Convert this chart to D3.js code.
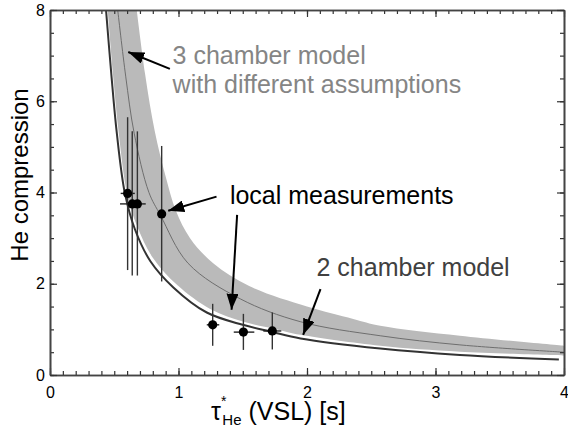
<!DOCTYPE html>
<html lang="en">
<head>
<meta charset="UTF-8">
<script src="https://d3js.org/d3.v7.min.js"></script>
<title>He compression</title>
<style>
  body { margin: 0; background: #fff; }
  text { font-family: "Liberation Sans", Arial, Helvetica, sans-serif; }
</style>
</head>
<body>
<svg id="chart" width="568" height="428"></svg>
<script>
// tick labels
const xTicks = [0, 1, 2, 3, 4];
const yTicks = [0, 2, 4, 6, 8];

// 2 chamber model (dark line) as [tau, compression]
const twoChamber = [[0.436,8.0],[0.477,6.6],[0.52,5.3],[0.583,3.98],[0.66,3.2],[0.78,2.5],[0.96,1.92],
  [1.22,1.37],[1.5,1.1],[1.72,0.95],[1.95,0.8],[2.57,0.58],[3.19,0.44],[3.96,0.34]];

// 3 chamber model: band edges and the middle line
const bandUpper = [[0.675,8.0],[0.74,6.6],[0.815,5.35],[0.90,4.35],[0.98,3.6],[1.09,3.0],[1.27,2.45],
  [1.55,1.95],[2.0,1.5],[2.36,1.23],[2.57,1.08],[3.19,0.86],[4.0,0.64]];
const bandLower = [[0.449,8.0],[0.49,6.6],[0.535,5.3],[0.60,3.98],[0.68,3.25],[0.80,2.57],[0.99,1.97],
  [1.25,1.44],[1.5,1.17],[1.75,1.01],[1.95,0.88],[2.57,0.64],[3.19,0.51],[4.0,0.43]];
const threeChamber = [[0.527,8.0],[0.589,6.55],[0.655,5.3],[0.77,4.0],[0.86,3.5],[1.074,2.45],
  [1.48,1.67],[1.946,1.17],[2.57,0.86],[3.19,0.66],[4.0,0.50]];

// local measurements with error bars
const pointTau  = [0.604, 0.64, 0.68, 0.869, 1.266, 1.505, 1.73];
const pointComp = [3.98, 3.75, 3.75, 3.53, 1.10, 0.94, 0.965];
const compLow   = [2.30, 2.18, 2.18, 2.05, 0.64, 0.55, 0.56];
const compHigh  = [5.65, 5.34, 5.34, 5.02, 1.56, 1.34, 1.37];
const tauLow    = [0.55, 0.545, 0.62, 0.869, 1.22, 1.43, 1.66];
const tauHigh   = [0.66, 0.70, 0.745, 0.869, 1.317, 1.59, 1.80];

// annotations (data units)
const noteText = ["3 chamber model", "with different assumptions", "local measurements", "2 chamber model"];
const noteAt   = [[0.954,6.81],[0.954,6.18],[1.40,3.74],[2.074,2.17]];
const arrowFrom = [[0.933,6.71],[1.296,3.91],[1.456,3.51],[2.105,1.88]];
const arrowTo   = [[0.609,7.08],[0.92,3.60],[1.413,1.43],[1.97,0.88]];

const svg = d3.select("svg#chart");
const margin = {top: 10, right: 4, bottom: 53, left: 50};
const width = +svg.attr("width"), height = +svg.attr("height");

const x = d3.scaleLinear().domain([0, 4]).range([margin.left, width - margin.right]);
const y = d3.scaleLinear().domain([0, 8]).range([height - margin.bottom, margin.top]);

svg.append("defs").append("clipPath").attr("id", "plot")
  .append("rect")
  .attr("x", x(0)).attr("y", y(8))
  .attr("width", x(4) - x(0)).attr("height", y(0) - y(8));

svg.select("defs").append("marker")
  .attr("id", "head")
  .attr("markerUnits", "userSpaceOnUse")
  .attr("viewBox", "0 -6 16 12")
  .attr("refX", 16).attr("refY", 0)
  .attr("markerWidth", 16).attr("markerHeight", 12)
  .attr("orient", "auto")
  .append("path").attr("d", "M0,-6L16,0L0,6Z").attr("fill", "#000");

const lineGen = d3.line()
  .x(d => x(d[0]))
  .y(d => y(d[1]))
  .curve(d3.curveCatmullRom.alpha(0.5));

const curves = svg.append("g").attr("clip-path", "url(#plot)");

// band: upper edge, then lower edge back
const up = lineGen(bandUpper);
const down = lineGen(bandLower.slice().reverse()).replace(/^M/, "L");
curves.append("path")
  .attr("d", up + down + "Z")
  .attr("fill", "#bababa");

curves.append("path")
  .attr("d", lineGen(threeChamber))
  .attr("fill", "none")
  .attr("stroke", "#6e6e6e")
  .attr("stroke-width", 1);

curves.append("path")
  .attr("d", lineGen(twoChamber))
  .attr("fill", "none")
  .attr("stroke", "#333")
  .attr("stroke-width", 2);

// error bars + points
const pts = svg.append("g");
pointTau.forEach((t, i) => {
  pts.append("line")
    .attr("x1", x(t)).attr("x2", x(t))
    .attr("y1", y(compLow[i])).attr("y2", y(compHigh[i]))
    .attr("stroke", "#333").attr("stroke-width", 1.4);
  pts.append("line")
    .attr("x1", x(tauLow[i])).attr("x2", x(tauHigh[i]))
    .attr("y1", y(pointComp[i])).attr("y2", y(pointComp[i]))
    .attr("stroke", "#222").attr("stroke-width", 1.4);
});
pts.selectAll("circle")
  .data(pointTau)
  .join("circle")
  .attr("cx", d => x(d))
  .attr("cy", (d, i) => y(pointComp[i]))
  .attr("r", 4.6)
  .attr("fill", "#000");

// axes with inward ticks on all four sides
const minorX = d3.range(0, 4.001, 0.1);
const minorY = d3.range(0, 8.001, 0.5);
const axes = svg.append("g").attr("class", "axes");

function addAxis(axis, vals, size, tx, ty, labels) {
  const g = axes.append("g")
    .attr("transform", "translate(" + tx + "," + ty + ")")
    .call(axis.tickValues(vals).tickSize(size).tickSizeOuter(0).tickFormat(d3.format("d")));
  if (!labels) g.selectAll("text").remove();
  g.select(".domain").attr("stroke", "#444").attr("stroke-width", 1.6);
  g.selectAll(".tick line").attr("stroke", "#333").attr("stroke-width", 1.2);
  return g;
}

addAxis(d3.axisBottom(x), minorX, -4, 0, y(0), false);
addAxis(d3.axisTop(x), minorX, -4, 0, y(8), false);
addAxis(d3.axisLeft(y), minorY, -4, x(0), 0, false);
addAxis(d3.axisRight(y), minorY, -4, x(4), 0, false);

addAxis(d3.axisBottom(x).tickPadding(12), xTicks, -7, 0, y(0), true);
addAxis(d3.axisTop(x), xTicks, -7, 0, y(8), false);
addAxis(d3.axisLeft(y).tickPadding(5), yTicks, -7, x(0), 0, true);
addAxis(d3.axisRight(y), yTicks, -7, x(4), 0, false);

axes.selectAll("text")
  .attr("font-family", null)
  .style("font-size", "16px")
  .attr("fill", "#000");

// axis titles
svg.append("text")
  .attr("transform", "translate(28,175) rotate(-90)")
  .attr("text-anchor", "middle")
  .style("font-size", "24px")
  .text("He compression");

const xl = svg.append("text")
  .attr("x", 211).attr("y", 420)
  .style("font-size", "25px");
xl.append("tspan").text("τ");
xl.append("tspan").attr("dy", -14).style("font-size", "14px").text("*");
xl.append("tspan").attr("dy", 19).attr("dx", -4).style("font-size", "15px").text("He");
xl.append("tspan").attr("dy", -5).text(" (VSL) [s]");

// annotations
const noteColor = ["#858585", "#858585", "#000", "#404040"];
svg.append("g").selectAll("text")
  .data(noteText)
  .join("text")
  .attr("x", (d, i) => x(noteAt[i][0]))
  .attr("y", (d, i) => y(noteAt[i][1]))
  .attr("fill", (d, i) => noteColor[i])
  .style("font-size", "25px")
  .text(d => d);

svg.append("g").selectAll("line")
  .data(arrowFrom)
  .join("line")
  .attr("x1", d => x(d[0])).attr("y1", d => y(d[1]))
  .attr("x2", (d, i) => x(arrowTo[i][0])).attr("y2", (d, i) => y(arrowTo[i][1]))
  .attr("stroke", "#000")
  .attr("stroke-width", 2)
  .attr("marker-end", "url(#head)");
</script>
</body>
</html>
